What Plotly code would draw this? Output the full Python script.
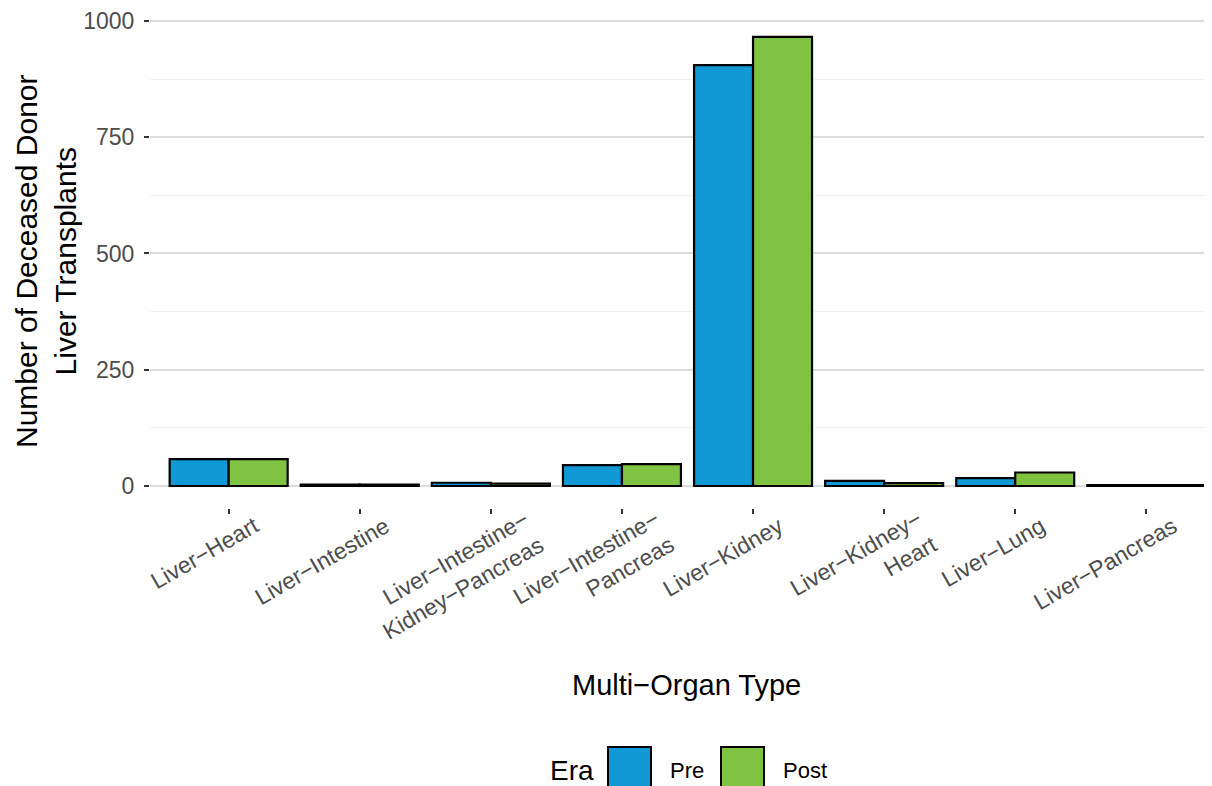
import math
import plotly.graph_objects as go

categories = ["Liver−Heart", "Liver−Intestine", "Liver−Intestine−<br>Kidney−Pancreas",
              "Liver−Intestine−<br>Pancreas", "Liver−Kidney", "Liver−Kidney−<br>Heart",
              "Liver−Lung", "Liver−Pancreas"]
pre_values = [58, 3, 7, 45, 905, 11, 17, 2]
post_values = [58, 3, 5, 47, 966, 6, 29, 2]
y_ticks = [0, 250, 500, 750, 1000]
era_labels = ["Pre", "Post"]
colors = ["#1199D6", "#80C342"]

# page is shown with an 8px body margin: screen coord = figure coord + 8
OFF = 8
W, H = 1212, 786
L, R, T, B = 142, 0, 6, 286
pw, ph = W - L - R, H - T - B

def px(x):
    return (x - OFF - L) / pw

def py(y):
    return (H - B - (y - OFF)) / ph

FONT = "Liberation Sans, Arial, sans-serif"
TICK_FS = 23

fig = go.Figure()
for name, vals, col in zip(era_labels, [pre_values, post_values], colors):
    fig.add_trace(go.Bar(x=list(range(len(categories))), y=vals, name=name,
                         marker=dict(color=col, line=dict(color="black", width=2.2)),
                         showlegend=False))

fig.update_layout(
    width=W, height=H, margin=dict(l=L, r=R, t=T, b=B, autoexpand=False),
    plot_bgcolor="white", paper_bgcolor="white",
    barmode="group", bargap=0.1, bargroupgap=0,
    font=dict(family=FONT),
    xaxis=dict(range=[-0.6, 7.562], tickmode="array", tickvals=list(range(len(categories))),
               showticklabels=False, showgrid=False, zeroline=False, automargin=False,
               ticks="outside", ticklen=5, tickwidth=2, tickcolor="#333333", showline=False),
    yaxis=dict(range=[-47.3, 1015], tickmode="array", tickvals=y_ticks,
               ticktext=[str(v) for v in y_ticks], showgrid=True, gridcolor="#DCDCDC",
               gridwidth=1.5, zeroline=False, ticks="outside", ticklen=5, tickwidth=2,
               automargin=False, ticklabelstandoff=5,
               tickcolor="#333333", tickfont=dict(size=TICK_FS, color="#4D4D4D", family=FONT),
               minor=dict(tickvals=[125, 375, 625, 875], showgrid=True,
                          gridcolor="#F2F2F2", gridwidth=1, ticks=""),
               showline=False),
)

# rotated category labels (right-aligned, 30 degrees), placed as annotations
CW = {"L": .556, "i": .222, "v": .5, "e": .556, "r": .333, "−": .584, "H": .722,
      "a": .556, "t": .278, "I": .278, "n": .556, "s": .5, "K": .667, "d": .556,
      "y": .5, "P": .667, "c": .5, "u": .556, "g": .556, " ": .278}
ang = math.radians(30)
u = (math.cos(ang), -math.sin(ang))
v = (math.sin(ang), math.cos(ang))
ANCHOR = {1: (20.3, 2.6), 2: (28.3, -4.4)}   # top-right of label block vs tick / panel bottom
LH = 1.3 * TICK_FS
for i, lab in enumerate(categories):
    lines = lab.split("<br>")
    w = max(sum(CW.get(ch, .55) for ch in ln) for ln in lines) * TICK_FS
    n = len(lines)
    A = ANCHOR[n]
    cx = A[0] - u[0] * w / 2 + v[0] * n * LH / 2
    cy = A[1] - u[1] * w / 2 + v[1] * n * LH / 2
    fig.add_annotation(text=lab, xref="x", yref="paper", x=i, y=0,
                       xshift=cx, yshift=-cy, showarrow=False, textangle=-30,
                       xanchor="center", yanchor="middle", align="right",
                       font=dict(size=TICK_FS, color="#4D4D4D", family=FONT))

# axis titles
fig.add_annotation(text="Multi−Organ Type", xref="paper", yref="paper",
                   x=px(686), y=py(685), showarrow=False, xanchor="center", yanchor="middle",
                   font=dict(size=29, color="black", family=FONT))
fig.add_annotation(text="Number of Deceased Donor<br>Liver Transplants", xref="paper", yref="paper",
                   x=px(46), y=py(261), showarrow=False, xanchor="center", yanchor="middle",
                   textangle=-90, font=dict(size=30, color="black", family=FONT))

# legend (custom, large keys)
fig.add_annotation(text="Era", xref="paper", yref="paper", x=px(548), y=py(770),
                   showarrow=False, xanchor="left", yanchor="middle",
                   font=dict(size=28, color="black", family=FONT))
key_x = [608, 721]
lab_x = [668, 781]
for kx, lx, name, col in zip(key_x, lab_x, era_labels, colors):
    fig.add_shape(type="rect", xref="paper", yref="paper",
                  x0=px(kx), x1=px(kx + 43), y0=py(747), y1=py(790),
                  fillcolor=col, line=dict(color="black", width=2))
    fig.add_annotation(text=name, xref="paper", yref="paper", x=px(lx), y=py(770),
                       showarrow=False, xanchor="left", yanchor="middle",
                       font=dict(size=22, color="black", family=FONT))

fig.write_html("out.html")
